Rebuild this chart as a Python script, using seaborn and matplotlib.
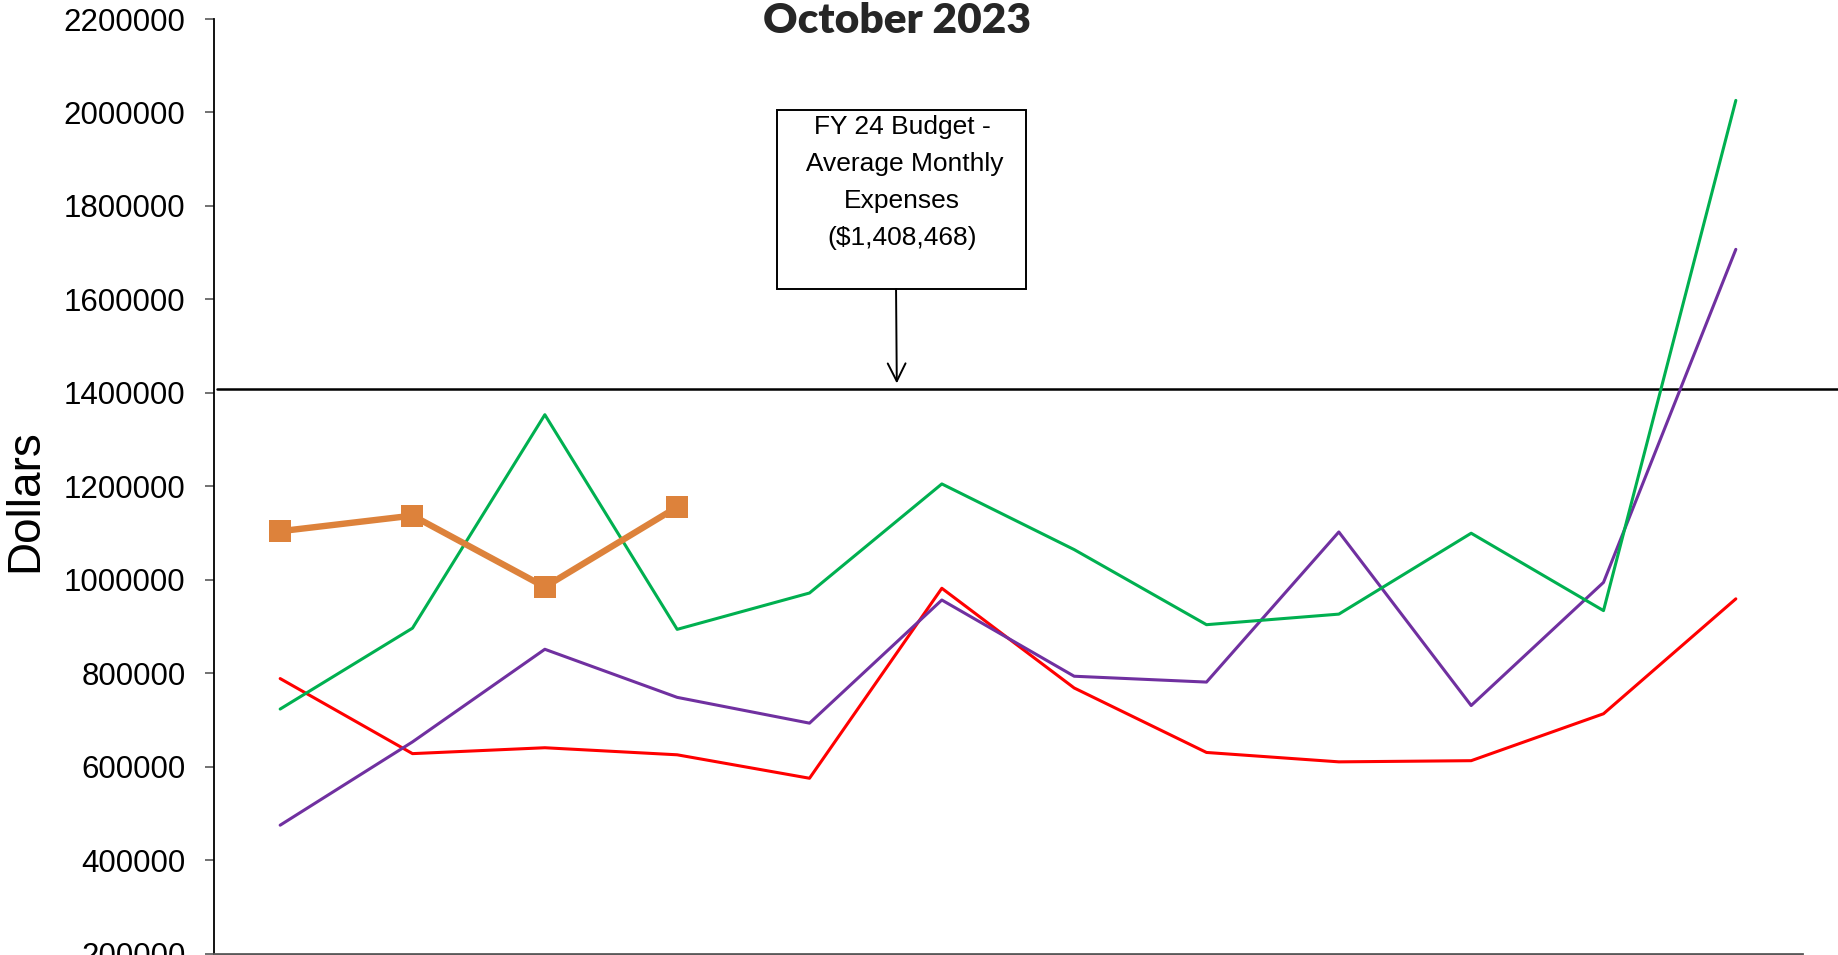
import matplotlib
matplotlib.use("Agg")
import matplotlib.pyplot as plt
from matplotlib.patches import Rectangle
from matplotlib.ticker import FuncFormatter, FixedLocator
import numpy as np
import pandas as pd
import seaborn as sns

# Fiscal-year months (July through June)
months = ["Jul", "Aug", "Sep", "Oct", "Nov", "Dec",
          "Jan", "Feb", "Mar", "Apr", "May", "Jun"]

# Monthly expenses by fiscal year
fy21 = [788700, 628100, 640700, 625600, 575400, 981900,
        768600, 630600, 610500, 613000, 713400, 959300]
fy22 = [475000, 653200, 851400, 748500, 693300, 956800,
        793700, 781200, 1102400, 731000, 994500, 1707100]
fy23 = [723500, 896600, 1353300, 894000, 971800, 1205200,
        1064700, 904000, 926600, 1099700, 934100, 2025800]
fy24 = [1104000, 1137400, 984800, 1155800]

budget_avg = 1408468
budget_text = "FY 24 Budget -\n Average Monthly\nExpenses\n($1,408,468)"

yticks = [200000, 400000, 600000, 800000, 1000000, 1200000,
          1400000, 1600000, 1800000, 2000000, 2200000]

sns.set_theme(style="white")
plt.rcParams["font.family"] = ["Liberation Sans", "DejaVu Sans"]

fig = plt.figure(figsize=(18.38, 9.55), dpi=100)
ax = fig.add_axes([214 / 1838, 1.3 / 955, 1588 / 1838, 934.7 / 955])

frames = []
for name, vals in [("FY21", fy21), ("FY22", fy22), ("FY23", fy23), ("FY24", fy24)]:
    frames.append(pd.DataFrame({"month": np.arange(len(vals)),
                                "label": months[:len(vals)],
                                "dollars": vals, "year": name}))
df = pd.concat(frames, ignore_index=True)

thin = {"FY21": "#FF0000", "FY22": "#7030A0", "FY23": "#00B050"}
for yr, col in thin.items():
    sns.lineplot(data=df[df.year == yr], x="month", y="dollars", ax=ax,
                 color=col, linewidth=2.2, legend=False)
sns.lineplot(data=df[df.year == "FY24"], x="month", y="dollars", ax=ax,
             color="#DD823B", linewidth=4.6, marker="s", markersize=16,
             markeredgewidth=0, legend=False)

ax.set_xlim(-0.5, 11.5)
ax.set_ylim(200000, 2200000)
ax.set_xlabel("")
ax.set_ylabel("")

ax.yaxis.set_major_locator(FixedLocator(yticks))
ax.yaxis.set_major_formatter(FuncFormatter(lambda v, p: f"{int(v)}"))
ax.xaxis.set_major_locator(FixedLocator(np.arange(-0.5, 12.0, 1.0)))
ax.set_xticklabels([])
ax.tick_params(axis="y", which="major", direction="out", length=6.5,
               width=1.2, color="#595959", labelsize=22.5, pad=14,
               labelcolor="black", left=True)
ax.tick_params(axis="x", which="major", direction="out", length=5,
               width=1.2, color="#595959", bottom=True)

for side in ("top", "right"):
    ax.spines[side].set_visible(False)
ax.spines["left"].set_color("black")
ax.spines["left"].set_linewidth(1.3)
ax.spines["bottom"].set_color("#595959")
ax.spines["bottom"].set_linewidth(2.0)

# Budget reference line spanning past the plot area
ax.axhline(budget_avg, xmin=0.002, xmax=1.0227, color="black",
           linewidth=1.8, clip_on=False, zorder=1)

# Callout box with arrow pointing at the budget line
ax.add_patch(Rectangle((0.3545, 0.7111), 0.1568, 0.1915,
                       transform=ax.transAxes, fill=False,
                       edgecolor="black", linewidth=1.4, zorder=3))
ax.text(0.4332, 0.8975, budget_text, transform=ax.transAxes,
        ha="center", va="top", fontsize=19, linespacing=1.68,
        color="black", zorder=4)
ax.annotate("", xy=(0.4300, budget_avg), xycoords=("axes fraction", "data"),
            xytext=(0.4295, 0.7111), textcoords="axes fraction",
            arrowprops=dict(arrowstyle="->", color="black", lw=1.4,
                            mutation_scale=32, shrinkA=0, shrinkB=4))

fig.text(897 / 1838, (955 - 33) / 955, "October 2023", ha="center",
         va="baseline", fontsize=30.5, fontweight="heavy",
         family=["Lato", "DejaVu Sans"])
fig.text(25 / 1838, (955 - 501) / 955, "Dollars", rotation=90,
         ha="center", va="center", fontsize=33, color="black")

fig.savefig("out.png", dpi=100, facecolor="white")
